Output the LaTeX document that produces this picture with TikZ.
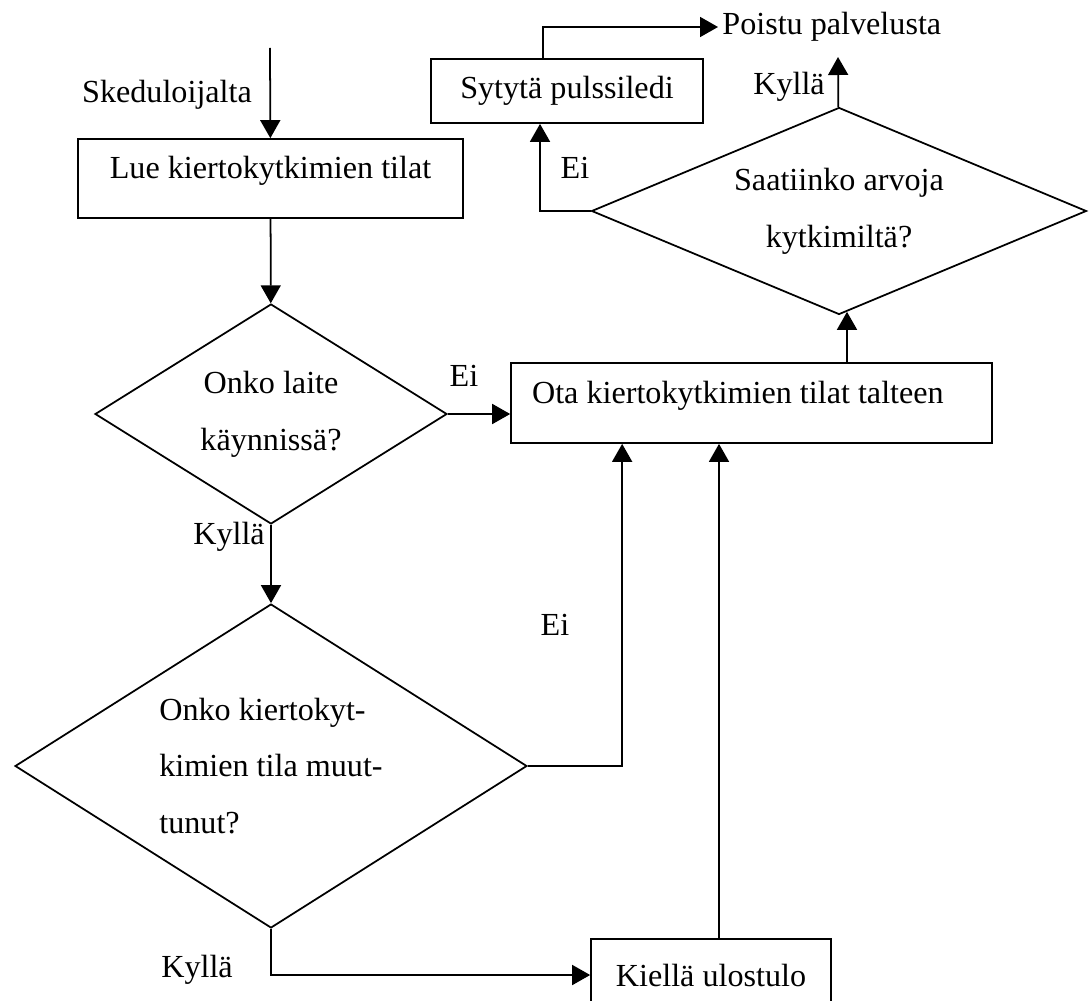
\documentclass[tikz,border=0pt]{standalone}
\usepackage{fontspec}
\setmainfont{Liberation Serif}
\usetikzlibrary{shapes.geometric,arrows.meta,positioning}
\begin{document}
\begin{tikzpicture}[x=0.02cm,y=-0.02cm,line width=1pt,
    font=\fontsize{18.3}{32.4}\selectfont,
    box/.style={draw,inner sep=0pt},
    decision/.style={draw,diamond,inner sep=0pt,align=center},
    arr/.style={-{Triangle[length=0.36cm,width=0.4cm]}}]
    \useasboundingbox (0,0) rectangle (1091,1000);
    \node(Lue)      [box,text height=0.42cm,text depth=0.42cm,minimum width=7.7cm,minimum height=1.58cm] at (270.5,178.5) {Lue kiertokytkimien tilat};
    \node(Laite)    [decision,aspect=1.57,minimum width=7.04cm,minimum height=4.4cm] at (271,414) {Onko laite\\käynnissä?};
    \node(Muutos)   [decision,aspect=1.58,align=left,minimum width=10.24cm,minimum height=6.48cm] at (271,766) {Onko kiertokyt-\\kimien tila muut-\\tunut?};
    \node(Talteen)  [box,minimum width=9.62cm,minimum height=1.6cm,
                     label={[anchor=base west,inner sep=0pt,xshift=0.42cm]west:Ota kiertokytkimien tilat talteen}] at (751.5,403) {};
    \node(Kiella)   [box,minimum width=4.8cm,minimum height=1.44cm] at (711,975) {Kiellä ulostulo};
    \node(Saatiin)  [decision,aspect=2.39,minimum width=9.9cm,minimum height=4.14cm] at (839,211) {Saatiinko arvoja\\kytkimiltä?};
    \node(Syty)     [box,minimum width=5.44cm,minimum height=1.28cm] at (567,91) {Sytytä pulssiledi};
    \node(Poistu)   [anchor=west,inner sep=2pt] at (718,27) {Poistu palvelusta};
    \node(Sked)     at (167,95) {Skeduloijalta};
    \coordinate(Alku)  at (270,48);
    \coordinate(Loppu) at (838,57);
    % vastausten nimet
    \node(EiLaite)      at (464,376) {Ei};
    \node(KylLaite)     at (229,537) {Kyllä};
    \node(EiMuutos)     at (555,625) {Ei};
    \node(KylMuutos)    at (197,970) {Kyllä};
    \node(EiSaatiin)    at (575,168) {Ei};
    \node(KylSaatiin)   at (789,87)  {Kyllä};
    % nuolet
    \draw[arr](Alku)      -- (Lue);
    \draw[arr](Lue)       -- (Laite);
    \draw[arr](Laite)     -- (Muutos);
    \draw[arr](Laite.east) -- (Laite.east -| Talteen.west);
    \draw[arr](Muutos.east) -| ([xshift=2.24cm]Talteen.south west);
    \draw[arr](Muutos.south) |- (Kiella.west);
    \draw[arr]([xshift=0.16cm]Kiella.north) -- ([xshift=0.16cm]Kiella.north |- Talteen.south);
    \draw[arr]([xshift=0.16cm]Saatiin.south |- Talteen.north) -- ([xshift=0.16cm,yshift=0.07cm]Saatiin.south);
    \draw[arr](Saatiin.west) -| ([xshift=-0.54cm]Syty.south);
    \draw[arr](Saatiin)   -- (Loppu);
    \draw[arr]([xshift=-0.48cm]Syty.north) |- (Poistu);
  \end{tikzpicture}
\end{document}
